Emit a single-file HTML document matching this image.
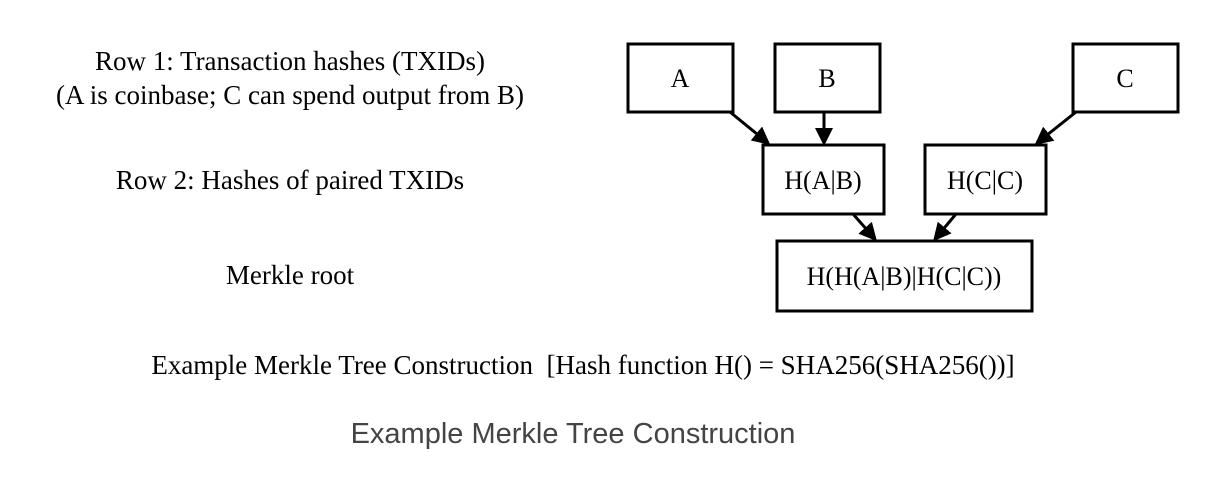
<!DOCTYPE html>
<html><head><meta charset="utf-8"><style>
html,body{margin:0;padding:0;background:#fff;}
svg{display:block}
.s{font-family:"Liberation Serif",serif;font-size:27px;fill:#000}
.b{font-family:"Liberation Serif",serif;font-size:26px;fill:#000}
.t{font-family:"Liberation Sans",sans-serif;font-size:29px;fill:#444}
rect{fill:#fff;stroke:#000;stroke-width:3}
line{stroke:#000;stroke-width:3}
</style></head><body>
<svg width="1208" height="480" viewBox="0 0 1208 480">
<defs><marker id="ah" markerWidth="6" markerHeight="6" refX="5" refY="3" orient="auto" markerUnits="strokeWidth"><path d="M0,0 L6,3 L0,6 z" fill="#000"/></marker></defs>
<g>
<text class="s" x="290" y="70" text-anchor="middle">Row 1: Transaction hashes (TXIDs)</text>
<text class="s" x="290" y="104" text-anchor="middle">(A is coinbase; C can spend output from B)</text>
<text class="s" x="290" y="189" text-anchor="middle">Row 2: Hashes of paired TXIDs</text>
<text class="s" x="290" y="284" text-anchor="middle">Merkle root</text>
</g>
<g>
<line x1="730" y1="112" x2="768" y2="143" marker-end="url(#ah)"/>
<line x1="824" y1="112" x2="824" y2="143" marker-end="url(#ah)"/>
<line x1="1076" y1="112" x2="1037" y2="143" marker-end="url(#ah)"/>
<line x1="853" y1="214" x2="875" y2="239" marker-end="url(#ah)"/>
<line x1="956" y1="214" x2="935" y2="239" marker-end="url(#ah)"/>
</g>
<g><rect x="628" y="44" width="105" height="68"/><text class="b" x="680" y="87" text-anchor="middle">A</text></g>
<g><rect x="775" y="44" width="105" height="68"/><text class="b" x="827" y="87" text-anchor="middle">B</text></g>
<g><rect x="1073" y="44" width="105" height="68"/><text class="b" x="1125" y="87" text-anchor="middle">C</text></g>
<g><rect x="763" y="145" width="121" height="69"/><text class="b" x="823" y="189" text-anchor="middle">H(A|B)</text></g>
<g><rect x="925" y="145" width="121" height="69"/><text class="b" x="985" y="189" text-anchor="middle">H(C|C)</text></g>
<g><rect x="777" y="241" width="255" height="70"/><text class="b" x="904" y="285" text-anchor="middle">H(H(A|B)|H(C|C))</text></g>
<text class="s" x="583" y="374" text-anchor="middle" xml:space="preserve">Example Merkle Tree Construction  [Hash function H() = SHA256(SHA256())]</text>
<text class="t" x="573" y="443" text-anchor="middle">Example Merkle Tree Construction</text>
</svg>
</body></html>
